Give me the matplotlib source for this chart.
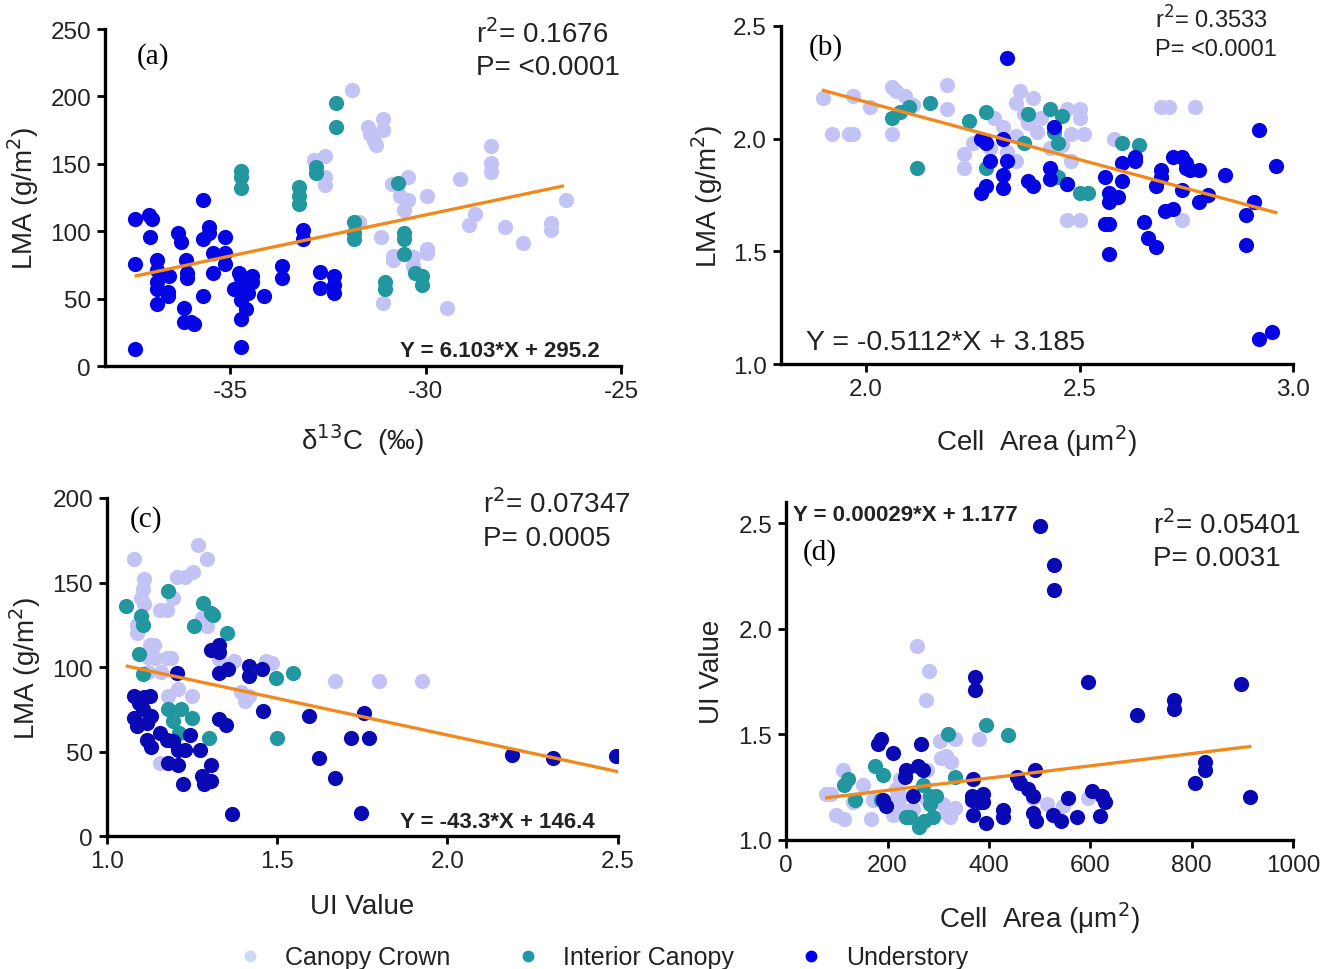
import matplotlib
matplotlib.use("Agg")
import matplotlib.pyplot as plt
from matplotlib.lines import Line2D
import numpy as np

plt.rcParams['font.family'] = ['Liberation Sans', 'DejaVu Sans']
plt.rcParams['axes.unicode_minus'] = False

# ---- colours ----
CROWN = '#c3c3f5'
INTERIOR = '#23979f'
UNDER_AB = '#0606e4'
UNDER_CD = '#0a0ab4'
LINE = '#f08a1e'
TXT = '#222222'

# ---- panel (a): d13C vs LMA ----
a_crown_x = [-32.86, -32.58, -32.58, -32.58, -31.87, -31.7, -31.46, -31.43, -31.33, -31.28, -31.1, -31.1,
             -31.15, -31.1, -30.85, -30.82, -30.82, -30.66, -30.56, -30.44, -30.44, -30.33, -30.33, -29.97,
             -29.97, -29.97, -29.45, -29.12, -28.9, -28.74, -28.32, -28.32, -28.32, -27.97, -27.5, -26.78,
             -26.78, -26.4]
a_crown_y = [153, 156, 140, 134, 205, 107, 177, 172, 167, 164, 183, 175,
             96, 47, 135, 82, 79, 126, 116, 140, 123, 81, 74, 126,
             84, 87, 43, 139, 105, 113, 163, 151, 144, 103, 91, 106,
             101, 123]
a_inter_x = [-34.73, -34.73, -34.73, -33.24, -33.24, -33.24, -32.8, -32.8, -32.29, -32.29, -31.84, -31.84,
             -31.84, -31.04, -31.04, -30.71, -30.55, -30.55, -30.55, -30.27, -30.08, -30.08]
a_inter_y = [145, 140, 132, 133, 126, 120, 148, 143, 195, 177, 107, 99,
             94, 62, 57, 136, 99, 94, 83, 69, 67, 60]
a_under_x = [-37.42, -37.42, -37.42, -37.07, -37.0, -37.05, -36.87, -36.87, -36.87, -36.87, -36.87, -36.6,
             -36.56, -36.6, -36.34, -36.26, -36.19, -36.19, -36.13, -36.1, -36.1, -36.0, -35.93, -35.68,
             -35.68, -35.68, -35.55, -35.55, -35.44, -35.44, -35.13, -35.13, -35.13, -34.9, -34.78, -34.78,
             -34.73, -34.73, -34.73, -34.73, -34.6, -34.55, -34.45, -34.45, -34.12, -33.68, -33.68, -33.13,
             -33.13, -32.71, -32.71, -32.34, -32.34, -32.34]
a_under_y = [109, 76, 13, 112, 109, 96, 79, 71, 62, 57, 46, 55,
             67, 52, 99, 92, 43, 33, 79, 69, 65, 33, 31, 123,
             52, 94, 103, 99, 84, 69, 96, 84, 76, 57, 69, 57,
             65, 49, 35, 14, 42, 54, 67, 62, 52, 74, 65, 101,
             94, 70, 58, 67, 54, 60]

# ---- panel (b): cell area vs LMA ----
b_crown_x = [1.90, 1.92, 1.96, 1.97, 1.97, 2.01, 2.06, 2.07, 2.06, 2.09, 2.11, 2.19, 2.19, 2.23, 2.23,
             2.25, 2.30, 2.32, 2.33, 2.35, 2.35, 2.36, 2.37, 2.38, 2.39, 2.40, 2.41, 2.43, 2.44, 2.46,
             2.47, 2.48, 2.48, 2.50, 2.50, 2.51, 2.47, 2.50, 2.58, 2.69, 2.71, 2.77, 2.74, 2.35, 2.29]
b_crown_y = [2.18, 2.02, 2.02, 2.02, 2.19, 2.14, 2.23, 2.21, 2.02, 2.19, 2.15, 2.24, 2.13, 1.93, 1.87,
             1.98, 2.09, 2.05, 1.94, 1.90, 2.16, 2.21, 2.11, 2.07, 2.18, 2.03, 2.09, 1.96, 2.05, 1.97,
             2.13, 2.02, 1.90, 2.13, 2.09, 2.02, 1.64, 1.64, 2.00, 2.14, 2.14, 2.14, 1.64, 2.01, 1.96]
b_inter_x = [2.06, 2.08, 2.10, 2.15, 2.12, 2.24, 2.28, 2.28, 2.37, 2.38, 2.43, 2.44, 2.45, 2.46,
             2.44, 2.45, 2.47, 2.50, 2.52, 2.60, 2.64]
b_inter_y = [2.09, 2.12, 2.14, 2.16, 1.87, 2.08, 2.12, 1.87, 1.98, 2.11, 2.13, 2.03, 1.98, 2.10,
             1.84, 1.83, 1.80, 1.76, 1.76, 1.98, 1.97]
b_under_x = [2.33, 2.27, 2.28, 2.29, 2.27, 2.28, 2.32, 2.32, 2.32, 2.33, 2.38, 2.39, 2.43, 2.43, 2.44,
             2.47, 2.56, 2.57, 2.57, 2.56, 2.57, 2.57, 2.60, 2.60, 2.59, 2.63, 2.63, 2.65, 2.66, 2.68,
             2.69, 2.69, 2.68, 2.70, 2.72, 2.72, 2.74, 2.75, 2.75, 2.74, 2.76, 2.78, 2.78, 2.80, 2.84,
             2.89, 2.89, 2.91, 2.92, 2.96, 2.92, 2.95]
b_under_y = [2.36, 2.00, 1.98, 1.90, 1.76, 1.79, 1.84, 1.78, 2.00, 1.90, 1.81, 1.79, 1.87, 1.82, 2.05,
             1.80, 1.83, 1.76, 1.72, 1.62, 1.62, 1.49, 1.89, 1.81, 1.74, 1.90, 1.92, 1.63, 1.56, 1.52,
             1.86, 1.83, 1.79, 1.68, 1.69, 1.92, 1.92, 1.89, 1.87, 1.77, 1.86, 1.86, 1.72, 1.75, 1.84,
             1.66, 1.53, 1.72, 2.04, 1.88, 1.11, 1.14]

# ---- panel (c): UI value vs LMA ----
c_crown_x = [1.08, 1.11, 1.106, 1.10, 1.11, 1.087, 1.087, 1.125, 1.137, 1.12, 1.14, 1.175, 1.187, 1.156,
             1.175, 1.193, 1.205, 1.23, 1.253, 1.266, 1.293, 1.293, 1.28, 1.12, 1.16, 1.18, 1.21, 1.25,
             1.156, 1.18, 1.33, 1.374, 1.393, 1.405, 1.418, 1.468, 1.486, 1.67, 1.80, 1.925]
c_crown_y = [164, 152, 146, 141, 137, 125, 120, 113, 113, 106, 105.5, 105.5, 105.5, 134,
             134, 141, 153, 153, 156, 172, 164, 124, 129, 97, 97, 83, 87, 83,
             43, 43, 104.5, 103.5, 85, 80, 83, 103.5, 102.6, 91.7, 91.7, 91.7]
c_inter_x = [1.056, 1.10, 1.106, 1.094, 1.106, 1.18, 1.18, 1.193, 1.218, 1.212, 1.25, 1.256, 1.283,
             1.306, 1.31, 1.353, 1.30, 1.495, 1.545, 1.50]
c_inter_y = [136, 130, 125, 107.5, 95.7, 145, 75, 68, 75, 61, 70, 124, 138,
             132, 131, 120, 58, 93.7, 96.6, 58]
c_under_x = [1.08, 1.078, 1.087, 1.11, 1.106, 1.125, 1.13, 1.118, 1.13, 1.094, 1.118, 1.206, 1.156,
             1.175, 1.193, 1.18, 1.21, 1.21, 1.23, 1.243, 1.224, 1.274, 1.28, 1.286, 1.305, 1.305,
             1.305, 1.33, 1.33, 1.33, 1.355, 1.33, 1.35, 1.368, 1.418, 1.418, 1.455, 1.457, 1.592,
             1.623, 1.67, 1.754, 1.717, 1.77, 1.745, 2.19, 2.31, 2.496]
c_under_y = [83, 70, 65, 82, 75, 83, 71, 57, 53, 79, 67, 96.6, 61,
             57, 56, 43, 42, 51, 51, 60, 31, 51, 35.5, 30.6, 32.5, 42,
             110, 113, 109, 96.6, 98.6, 69, 66, 12.8, 100.6, 94.7, 99, 74, 71,
             46, 34.5, 73, 58, 58, 13.8, 48, 46, 47.3]

# ---- panel (d): cell area vs UI value ----
d_crown_x = [258, 282, 275, 381, 303, 333, 316, 326, 306, 277, 112, 79, 89, 152, 99, 115, 168, 132,
             224, 217, 227, 211, 231, 211, 250, 310, 316, 333, 323, 487, 514, 547, 596, 277, 171]
d_crown_y = [1.92, 1.80, 1.665, 1.48, 1.47, 1.48, 1.40, 1.37, 1.39, 1.33, 1.33, 1.22, 1.22, 1.26, 1.12,
             1.10, 1.10, 1.18, 1.29, 1.24, 1.21, 1.18, 1.14, 1.12, 1.147, 1.17, 1.13, 1.15, 1.11, 1.20,
             1.17, 1.16, 1.20, 1.19, 1.19]
d_inter_x = [122, 115, 135, 175, 191, 188, 270, 283, 296, 283, 290, 273, 263, 237, 333, 320, 395, 437, 244]
d_inter_y = [1.29, 1.26, 1.19, 1.35, 1.31, 1.19, 1.26, 1.21, 1.21, 1.17, 1.11, 1.09, 1.06, 1.11, 1.30,
             1.50, 1.545, 1.495, 1.11]
d_under_x = [500, 528, 528, 373, 373, 596, 692, 766, 766, 898, 826, 826, 807, 916,
             188, 181, 211, 267, 260, 270, 237, 234, 250, 198, 191, 369, 366, 389, 382, 366,
             389, 369, 395, 428, 428, 455, 461, 491, 478, 487, 487, 494, 527, 543, 557, 573,
             603, 623, 629, 619]
d_under_y = [2.485, 2.30, 2.185, 1.77, 1.71, 1.75, 1.59, 1.665, 1.62, 1.74, 1.37, 1.33, 1.27, 1.205,
             1.48, 1.455, 1.414, 1.455, 1.35, 1.33, 1.33, 1.30, 1.21, 1.16, 1.19, 1.29, 1.21, 1.22,
             1.18, 1.19, 1.18, 1.12, 1.08, 1.14, 1.11, 1.30, 1.27, 1.33, 1.24, 1.21, 1.13, 1.09,
             1.12, 1.09, 1.20, 1.107, 1.23, 1.21, 1.18, 1.115]

# regression lines: slope, intercept, x range
fit_a = (6.103, 295.2, -37.4, -26.5)
fit_b = (-0.5112, 3.185, 1.90, 2.96)
fit_c = (-43.3, 146.4, 1.06, 2.50)
fit_d = (0.00029, 1.177, 80, 915)

fig = plt.figure(figsize=(13.37, 9.70), dpi=100)

ax_a = fig.add_axes([0.0785, 0.6216, 0.386, 0.3474])
ax_b = fig.add_axes([0.584, 0.6237, 0.383, 0.3485])
ax_c = fig.add_axes([0.080, 0.137, 0.382, 0.3486])
ax_d = fig.add_axes([0.588, 0.133, 0.379, 0.3484])


def style(ax):
    for s in ['top', 'right']:
        ax.spines[s].set_visible(False)
    for s in ['left', 'bottom']:
        ax.spines[s].set_linewidth(2.4)
        ax.spines[s].set_color('black')
    ax.tick_params(direction='out', length=6, width=2, labelsize=17.5,
                   labelcolor=TXT, pad=4)


def draw(ax, crown, inter, under, ucol, fit):
    ax.scatter(crown[0], crown[1], s=120, color=CROWN, linewidths=0, zorder=2)
    ax.scatter(inter[0], inter[1], s=120, color=INTERIOR, linewidths=0, zorder=3)
    ax.scatter(under[0], under[1], s=120, color=ucol, linewidths=0, zorder=3)
    k, b0, x0, x1 = fit
    xs = np.array([x0, x1])
    ax.plot(xs, k * xs + b0, color=LINE, lw=2.4, zorder=4)
    style(ax)


def stats(ax, x, y1, y2, r2, p, size=20):
    ax.text(x, y1, 'r$^2$= ' + r2, transform=ax.transAxes, fontsize=size, color=TXT, va='baseline')
    ax.text(x, y2, 'P= ' + p, transform=ax.transAxes, fontsize=size, color=TXT, va='baseline')


def tag(ax, x, y, s):
    ax.text(x, y, s, transform=ax.transAxes, fontsize=21, family='Liberation Serif',
            ha='center', va='center')


# (a)
draw(ax_a, (a_crown_x, a_crown_y), (a_inter_x, a_inter_y), (a_under_x, a_under_y), UNDER_AB, fit_a)
ax_a.set_xlim(-38.2, -25)
ax_a.set_ylim(0, 250)
ax_a.set_xticks([-35, -30, -25])
ax_a.set_yticks([0, 50, 100, 150, 200, 250])
ax_a.set_ylabel('LMA (g/m$^2$)', fontsize=20, color=TXT, labelpad=7)
ax_a.set_xlabel('δ$^{13}$C  (‰)', fontsize=20, color=TXT, labelpad=14)
tag(ax_a, 0.093, 0.92, '(a)')
stats(ax_a, 0.719, 0.961, 0.866, '0.1676', '<0.0001')
ax_a.text(0.572, 0.030, 'Y = 6.103*X + 295.2', transform=ax_a.transAxes,
          fontsize=16, fontweight='bold', color=TXT, ha='left', va='baseline')

# (b)
draw(ax_b, (b_crown_x, b_crown_y), (b_inter_x, b_inter_y), (b_under_x, b_under_y), UNDER_AB, fit_b)
ax_b.set_xlim(1.8, 3.0)
ax_b.set_ylim(1.0, 2.5)
ax_b.set_xticks([2.0, 2.5, 3.0])
ax_b.set_yticks([1.0, 1.5, 2.0, 2.5])
ax_b.xaxis.set_major_formatter('{x:.1f}')
ax_b.yaxis.set_major_formatter('{x:.1f}')
ax_b.set_ylabel('LMA (g/m$^2$)', fontsize=20, color=TXT, labelpad=6)
ax_b.set_xlabel('Cell  Area (μm$^2$)', fontsize=20, color=TXT, labelpad=16)
tag(ax_b, 0.088, 0.938, '(b)')
stats(ax_b, 0.730, 0.995, 0.915, '0.3533', '<0.0001', size=17)
ax_b.text(0.049, 0.044, 'Y = -0.5112*X + 3.185', transform=ax_b.transAxes,
          fontsize=20.5, color=TXT, ha='left', va='baseline')

# (c)
draw(ax_c, (c_crown_x, c_crown_y), (c_inter_x, c_inter_y), (c_under_x, c_under_y), UNDER_CD, fit_c)
ax_c.set_xlim(1.0, 2.5)
ax_c.set_ylim(0, 200)
ax_c.set_xticks([1.0, 1.5, 2.0, 2.5])
ax_c.set_yticks([0, 50, 100, 150, 200])
ax_c.xaxis.set_major_formatter('{x:.1f}')
ax_c.set_ylabel('LMA (g/m$^2$)', fontsize=20, color=TXT, labelpad=7)
ax_c.set_xlabel('UI Value', fontsize=20, color=TXT, labelpad=15)
tag(ax_c, 0.076, 0.938, '(c)')
stats(ax_c, 0.736, 0.959, 0.861, '0.07347', '0.0005')
ax_c.text(0.573, 0.027, 'Y = -43.3*X + 146.4', transform=ax_c.transAxes,
          fontsize=16, fontweight='bold', color=TXT, ha='left', va='baseline')

# (d)
draw(ax_d, (d_crown_x, d_crown_y), (d_inter_x, d_inter_y), (d_under_x, d_under_y), UNDER_CD, fit_d)
ax_d.set_xlim(0, 1000)
ax_d.set_ylim(1.0, 2.6)
ax_d.set_xticks([0, 200, 400, 600, 800, 1000])
ax_d.set_yticks([1.0, 1.5, 2.0, 2.5])
ax_d.yaxis.set_major_formatter('{x:.1f}')
ax_d.set_ylabel('UI Value', fontsize=20, color=TXT, labelpad=10)
ax_d.set_xlabel('Cell  Area (μm$^2$)', fontsize=20, color=TXT, labelpad=17)
tag(ax_d, 0.067, 0.855, '(d)')
stats(ax_d, 0.724, 0.908, 0.814, '0.05401', '0.0031')
ax_d.text(0.014, 0.947, 'Y = 0.00029*X + 1.177', transform=ax_d.transAxes,
          fontsize=16, fontweight='bold', color=TXT, ha='left', va='baseline')

# legend
handles = [
    Line2D([], [], marker='o', ls='', markersize=7.5, color='#c8dcf6', label='Canopy Crown'),
    Line2D([], [], marker='o', ls='', markersize=7.5, color='#1a9aad', label='Interior Canopy'),
    Line2D([], [], marker='o', ls='', markersize=7.5, color='#0000ee', label='Understory'),
]
leg = fig.legend(handles=handles, loc='center', bbox_to_anchor=(0.451, 0.012), ncol=3,
                 frameon=False, fontsize=18, handlelength=1.0, handletextpad=0.9,
                 columnspacing=2.6, borderpad=0, borderaxespad=0)
for t in leg.get_texts():
    t.set_color(TXT)

fig.savefig('out.png', dpi=100)
